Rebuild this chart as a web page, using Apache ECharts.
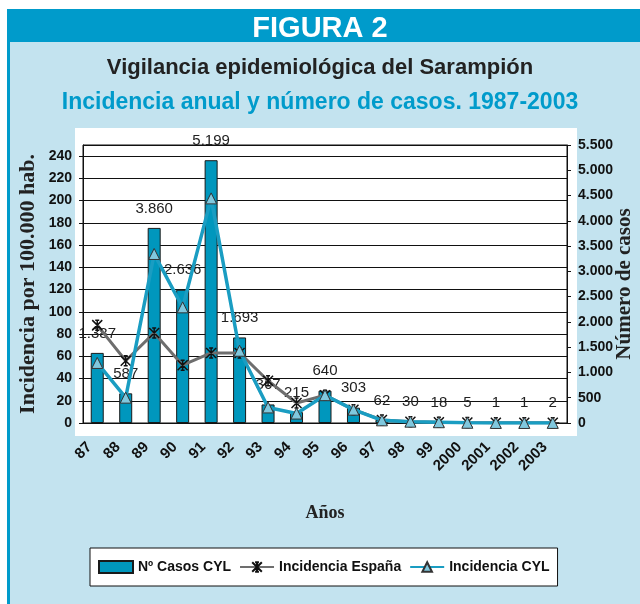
<!DOCTYPE html>
<html>
<head>
<meta charset="utf-8">
<script src="https://cdn.jsdelivr.net/npm/echarts@6/dist/echarts.min.js"></script>
<style>
  html, body { margin: 0; padding: 0; background: #fff; }
  #chart { width: 640px; height: 604px; }
</style>
</head>
<body>
<div id="chart"></div>
<script>
// years on the x axis
const years = ['87', '88', '89', '90', '91', '92', '93', '94', '95', '96', '97', '98', '99', '2000', '2001', '2002', '2003']
// Nº casos CYL (right axis)
const casosCYL = [1387, 587, 3860, 2636, 5199, 1693, 367, 215, 640, 303, 62, 30, 18, 5, 1, 1, 2]
// incidencia por 100.000 hab. (left axis)
const incEspana = [88, 56, 81, 52, 63, 63, 38, 18, 25, 12, 2.7, 1.2, 0.6, 0.4, 0.3, 0.3, 0.3]
const incCYL = [54, 22.8, 152, 104, 202, 65, 14, 8.5, 25, 12, 2.4, 1.2, 0.7, 0.2, 0.04, 0.04, 0.08]

const narrow = "'Liberation Sans Narrow', 'Arial Narrow', 'Liberation Sans', Arial, sans-serif"
const serif = "'Liberation Serif', 'Times New Roman', serif"
const teal = '#009bcb'
const panel = '#c3e3ef'

function miles(v) {
  return String(v).replace(/\B(?=(\d{3})+(?!\d))/g, '.')
}

const chart = echarts.init(document.getElementById('chart'))

chart.setOption({
  animation: false,
  backgroundColor: '#fff',
  graphic: [
    { type: 'rect', z: -10, shape: { x: 7, y: 9, width: 633, height: 595 }, style: { fill: teal } },
    { type: 'rect', z: -10, shape: { x: 10, y: 42, width: 630, height: 562 }, style: { fill: panel } },
    { type: 'rect', z: -10, shape: { x: 75, y: 128, width: 502, height: 308 }, style: { fill: '#fff' } }
  ],
  title: [
    { text: 'FIGURA 2', left: 'center', top: 9, textStyle: { color: '#fff', fontSize: 29, fontWeight: 'bold', fontFamily: narrow } },
    { text: 'Vigilancia epidemiológica del Sarampión', left: 'center', top: 52, textStyle: { color: '#222', fontSize: 22, fontWeight: 'bold', fontFamily: narrow } },
    { text: 'Incidencia anual y número de casos. 1987-2003', left: 'center', top: 86, textStyle: { color: teal, fontSize: 23, fontWeight: 'bold', fontFamily: narrow } }
  ],
  legend: {
    left: 90,
    top: 548,
    padding: [12, 8, 12, 8],
    itemGap: 8,
    itemWidth: 34,
    itemHeight: 12,
    backgroundColor: '#fff',
    borderColor: '#111',
    borderWidth: 1,
    textStyle: { color: '#111', fontSize: 14, fontWeight: 'bold', fontFamily: narrow },
    data: [
      { name: 'Nº Casos CYL', icon: 'rect' },
      { name: 'Incidencia España' },
      { name: 'Incidencia CYL' }
    ]
  },
  grid: {
    left: 83, right: 73, top: 145, bottom: 181,
    outerBoundsMode: 'none',
    show: true, borderColor: '#111', borderWidth: 1
  },
  xAxis: {
    type: 'category',
    data: years,
    name: 'Años',
    nameLocation: 'middle',
    nameGap: 81,
    nameMoveOverlap: false,
    nameTextStyle: { fontFamily: serif, fontWeight: 'bold', fontSize: 18, color: '#222' },
    axisLine: { lineStyle: { color: '#111' } },
    axisTick: { length: 4, lineStyle: { color: '#111' } },
    axisLabel: {
      interval: 0,
      rotate: 45,
      margin: 14,
      color: '#111',
      fontSize: 15,
      fontWeight: 'bold',
      fontFamily: narrow,
      padding: [0, 11, 0, 0]
    }
  },
  yAxis: [
    {
      type: 'value',
      min: 0,
      max: 250,
      interval: 20,
      name: 'Incidencia por 100.000 hab.',
      nameLocation: 'middle',
      nameRotate: 90,
      nameGap: 44,
      nameMoveOverlap: false,
      nameTextStyle: { fontFamily: serif, fontWeight: 'bold', fontSize: 22, color: '#222' },
      axisLine: { show: true, lineStyle: { color: '#111' } },
      axisTick: { show: true, length: 4, lineStyle: { color: '#111' } },
      axisLabel: { showMaxLabel: false, margin: 11, color: '#111', fontSize: 14, fontWeight: 'bold', fontFamily: narrow },
      splitLine: { lineStyle: { color: '#111', width: 1 } }
    },
    {
      type: 'value',
      min: 0,
      max: 5500,
      interval: 500,
      name: 'Número de casos',
      nameLocation: 'middle',
      nameRotate: 90,
      nameGap: 47,
      nameMoveOverlap: false,
      nameTextStyle: { fontFamily: serif, fontWeight: 'bold', fontSize: 21, color: '#222' },
      axisLine: { show: true, lineStyle: { color: '#111' } },
      axisTick: { show: true, length: 4, lineStyle: { color: '#111' } },
      axisLabel: { margin: 11, color: '#111', fontSize: 14, fontWeight: 'bold', fontFamily: narrow, formatter: miles },
      splitLine: { show: false }
    }
  ],
  series: [
    {
      name: 'Nº Casos CYL',
      type: 'bar',
      yAxisIndex: 1,
      data: casosCYL,
      barWidth: 13,
      itemStyle: { color: '#0097bd', borderColor: '#1a1a1a', borderWidth: 1 },
      label: {
        show: true,
        position: 'top',
        distance: 12,
        color: '#222',
        fontSize: 15,
        fontFamily: "'Liberation Sans', Arial, sans-serif",
        formatter: (p) => miles(p.value)
      },
      z: 2
    },
    {
      name: 'Incidencia España',
      type: 'line',
      data: incEspana,
      symbol: 'path://M0,0L10,10M10,0L0,10M5,0L5,10M3,0L7,0M3,10L7,10',
      symbolSize: 10,
      lineStyle: { color: '#6e6e6e', width: 3 },
      itemStyle: { color: '#111', borderColor: '#111', borderWidth: 1.5 },
      z: 3
    },
    {
      name: 'Incidencia CYL',
      type: 'line',
      data: incCYL,
      symbol: 'triangle',
      symbolSize: 11,
      lineStyle: { color: '#1a9dc2', width: 3.5 },
      itemStyle: { color: '#80c8de', borderColor: '#333', borderWidth: 1 },
      z: 4
    }
  ]
})
</script>
</body>
</html>
